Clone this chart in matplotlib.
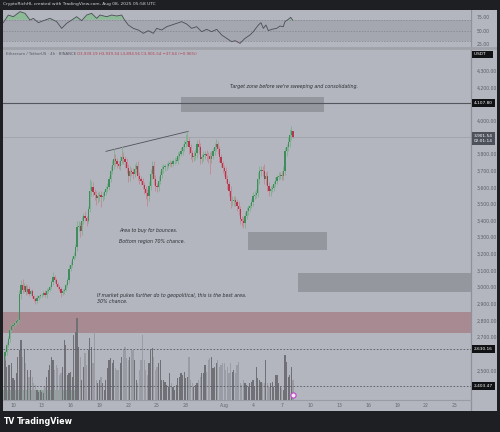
import numpy as np
import matplotlib
matplotlib.use("Agg")
import matplotlib.pyplot as plt
import matplotlib.transforms as mtransforms
from matplotlib.patches import Rectangle

first_open = 2585
closes = [
    2610, 2650, 2690, 2740, 2765,              # 9 juil. (04h..20h)
    2772, 2785, 2795, 2805, 2960, 3010,        # 10
    2985, 3005, 2970, 2990, 2960, 2975,        # 11
    2945, 2930, 2915, 2935, 2945, 2950,        # 12
    2955, 2965, 2950, 2975, 2985, 3000,        # 13
    3030, 3060, 3045, 3020, 3000, 2990,        # 14
    2965, 2975, 2985, 3010, 3040, 3110,        # 15
    3135, 3170, 3190, 3240, 3360, 3370,        # 16
    3340, 3400, 3425, 3415, 3400, 3470,        # 17
    3580, 3600, 3570, 3555, 3535, 3545,        # 18
    3555, 3540, 3545, 3570, 3590, 3600,        # 19
    3650, 3700, 3735, 3770, 3755, 3740,        # 20
    3730, 3760, 3780, 3770, 3750, 3715,        # 21
    3670, 3695, 3690, 3680, 3710, 3725,        # 22
    3670, 3650, 3635, 3615, 3590, 3565,        # 23
    3550, 3610, 3680, 3725, 3650, 3605,        # 24
    3600, 3640, 3675, 3710, 3720, 3725,        # 25
    3730, 3740, 3745, 3740, 3755, 3760,        # 26
    3760, 3790, 3800, 3815, 3840, 3860,        # 27
    3875, 3880, 3840, 3805, 3780, 3790,        # 28
    3805, 3860, 3840, 3770, 3780, 3795,        # 29
    3800, 3790, 3785, 3770, 3790, 3815,        # 30
    3840, 3860, 3830, 3780, 3745, 3715,        # 31
    3700, 3650, 3620, 3580, 3515, 3520,        # 1 août
    3525, 3510, 3490, 3470, 3410, 3395,        # 2
    3385, 3430, 3460, 3475, 3490, 3510,        # 3
    3550, 3555, 3565, 3650, 3700, 3705,        # 4
    3700, 3650, 3665, 3610, 3575, 3590,        # 5
    3595, 3620, 3640, 3660, 3670, 3675,        # 6
    3665, 3700, 3820, 3840, 3870, 3915,        # 7
    3939.19, 3901.54,                          # 8
]
upper_wicks = [
    15, 20, 15, 10, 20,
    10, 12, 15, 10, 25, 35,
    40, 20, 15, 20, 15, 10,
    15, 10, 10, 15, 10, 10,
    10, 10, 15, 20, 10, 15,
    15, 30, 15, 10, 10, 10,
    10, 15, 10, 15, 15, 20,
    20, 15, 20, 20, 40, 30,
    20, 25, 20, 30, 15, 20,
    70, 40, 30, 20, 20, 25,
    20, 20, 25, 15, 20, 25,
    20, 25, 30, 60, 30, 20,
    20, 30, 70, 30, 20, 25,
    25, 30, 20, 25, 30, 25,
    30, 20, 20, 20, 15, 20,
    25, 30, 30, 30, 30, 25,
    20, 25, 20, 25, 20, 15,
    15, 15, 20, 15, 15, 20,
    20, 20, 15, 25, 20, 25,
    45, 56, 25, 20, 20, 25,
    25, 25, 30, 25, 20, 20,
    20, 25, 20, 25, 30, 20,
    25, 30, 20, 20, 20, 15,
    20, 20, 25, 20, 25, 30,
    25, 20, 20, 25, 20, 20,
    25, 20, 20, 20, 15, 20,
    20, 20, 25, 40, 30, 25,
    25, 40, 25, 30, 20, 20,
    20, 15, 20, 15, 20, 15,
    20, 25, 20, 20, 30, 35,
    27, 0,
]
lower_wicks = [
    20, 15, 10, 20, 15,
    15, 10, 12, 15, 10, 30,
    20, 15, 20, 10, 15, 10,
    10, 15, 15, 10, 10, 10,
    10, 10, 10, 15, 10, 10,
    10, 15, 20, 15, 10, 15,
    25, 10, 15, 10, 10, 15,
    15, 15, 10, 15, 20, 25,
    40, 25, 20, 20, 30, 15,
    20, 30, 25, 30, 40, 30,
    30, 60, 20, 15, 15, 20,
    15, 20, 20, 25, 30, 25,
    20, 25, 20, 30, 35, 30,
    40, 30, 25, 30, 20, 25,
    25, 30, 20, 25, 30, 35,
    60, 30, 25, 30, 35, 30,
    30, 25, 20, 20, 25, 20,
    20, 15, 15, 20, 15, 15,
    15, 20, 20, 15, 20, 20,
    20, 30, 40, 35, 30, 25,
    25, 30, 40, 30, 25, 20,
    25, 30, 40, 90, 25, 20,
    20, 25, 30, 30, 25, 30,
    30, 25, 30, 35, 40, 30,
    30, 25, 30, 35, 30, 25,
    30, 30, 20, 25, 20, 15,
    25, 20, 20, 25, 30, 35,
    30, 30, 35, 30, 30, 25,
    20, 15, 20, 20, 15, 20,
    20, 20, 25, 30, 25, 30,
    30, 7,
]
volumes = [  # milliers d'ETH (estimation relative)
    45, 33, 35, 35, 37, 22, 20, 27, 43, 50, 60, 43, 50, 37, 30, 23, 30, 23,
    17, 15, 10, 8, 10, 8, 7, 13, 23, 30, 35, 43, 40, 30, 35, 32, 25, 27,
    33, 60, 55, 25, 27, 28, 23, 65, 68, 82, 53, 43, 20, 33, 47, 35, 50, 62,
    53, 37, 68, 20, 17, 20, 23, 17, 10, 20, 32, 40, 42, 37, 40, 32, 30, 30,
    37, 43, 50, 53, 42, 40, 43, 50, 50, 40, 20, 17, 30, 40, 65, 40, 30, 25,
    37, 50, 52, 43, 30, 33, 37, 40, 20, 20, 18, 15, 13, 27, 17, 13, 10, 15,
    22, 23, 27, 25, 28, 22, 23, 43, 20, 17, 13, 15, 17, 20, 23, 27, 27, 35,
    28, 40, 42, 43, 32, 33, 37, 40, 33, 35, 37, 37, 30, 33, 27, 37, 28, 30,
    27, 35, 38, 17, 15, 20, 17, 15, 13, 17, 18, 20, 13, 33, 22, 20, 18, 17,
    17, 40, 17, 13, 17, 18, 13, 25, 25, 17, 13, 12, 10, 45, 38, 23, 25, 33,
    20,
]

# RSI (jour, valeur)
rsi_days = [-1.01, -0.49, 0.03, 0.73, 1.25, 1.77, 2.12, 2.64, 3.16, 3.85, 4.55,
            5.07, 5.59, 6.11, 6.63, 7.15, 7.67, 8.19, 8.72, 9.06, 9.76, 10.28,
            10.80, 11.32, 11.67, 12.01, 12.53, 13.06, 13.58, 14.10, 14.62, 14.97,
            15.49, 16.01, 16.53, 17.05, 17.57, 18.09, 18.61, 19.13, 19.65, 20.17,
            20.69, 21.22, 21.74, 22.26, 22.78, 23.13, 23.65, 24.17, 24.69, 25.03,
            25.56, 25.83, 26.08, 26.35, 26.60, 26.94, 27.47, 27.81, 28.16, 28.33,
            28.68, 28.92, 29.13]
rsi_vals = [64.5, 78.7, 75.6, 84.9, 81.8, 69.4, 72.5, 64.5, 68.2, 72.5, 66.4,
            54.0, 63.3, 69.4, 75.6, 68.2, 78.7, 81.8, 72.5, 78.7, 75.6, 78.7,
            76.9, 78.7, 68.2, 60.2, 54.0, 50.9, 44.8, 49.7, 44.8, 54.0,
            50.9, 57.1, 60.2, 63.3, 66.4, 62.0, 54.0, 57.1, 47.8, 52.2,
            47.8, 52.2, 41.7, 35.5, 29.3, 31.2, 26.2, 35.5, 41.7, 47.8,
            60.2, 64.5, 54.0, 60.2, 49.7, 52.2, 54.0, 58.3, 57.1, 66.4,
            70.7, 74.4, 69.4]

tick_days = [0, 3, 6, 9, 12, 15, 18, 22, 25, 28, 31, 34, 37, 40, 43, 46]
tick_labels = ["10", "13", "16", "19", "22", "25", "28", "Aug", "4", "7",
               "10", "13", "16", "19", "22", "25"]
# graduations visibles (les autres sont masquées par les étiquettes de niveaux)
price_ticks = [2500, 2700, 2800, 2900, 3000, 3100, 3200, 3300, 3400, 3500,
               3600, 3700, 3800, 4000, 4200, 4300]

target_zone = (17.5, 32.4, 4052, 4142)
buy_zone = (24.5, 32.7, 3222, 3332)
low_zone = (29.7, 48.0, 2970, 3084)
pink_zone = (2726, 2852)
resistance = 4107.80
last_price = 3901.54
level_a = 2630.16
level_b = 2403.47
trend_line = ([9.69, 18.26], [3816, 3936])

# --- Style ---
PANE = "#b4b6bf"
DARK = "#1e1f22"
UP, DOWN = "#3f8d5c", "#b23850"
UP_W, DOWN_W = "#7fae8f", "#c48592"
W, H = 500, 432


def rect(x0, y0, x1, y1):
    return [x0 / W, 1 - y1 / H, (x1 - x0) / W, (y1 - y0) / H]


fig = plt.figure(figsize=(5, 4.32), dpi=100, facecolor=DARK)

bg = fig.add_axes(rect(3, 10, 497, 411))
bg.set_facecolor(PANE)
bg.set_xlim(3, 497)
bg.set_ylim(411, 10)
bg.axis("off")
bg.add_patch(Rectangle((3, 10), 494, 401, facecolor=PANE, edgecolor="none"))
bg.plot([471, 471], [10, 411], color="#8f9199", lw=0.9)
bg.plot([3, 497], [47.5, 47.5], color="#a0a2aa", lw=2.0)
bg.plot([3, 471], [400, 400], color="#9a9ca4", lw=0.8)

xlim = (-1.042, 47.71)

# --- RSI ---
ax_r = fig.add_axes(rect(3, 10, 471, 46.5))
ax_r.set_facecolor(PANE)
ax_r.set_xlim(*xlim)
ax_r.set_ylim(20.4, 88)
ax_r.axhspan(30, 70, color="#a5a7b0", lw=0)
for lvl in (70, 50, 30):
    ax_r.axhline(lvl, color="#80828b", lw=0.5, dashes=(2, 2))
rd = np.array(rsi_days)
rv = np.array(rsi_vals)
ax_r.fill_between(rd, rv, 70, where=rv > 70, interpolate=True, color="#8dbb98", lw=0)
ax_r.fill_between(rd, rv, 30, where=rv < 30, interpolate=True, color="#c99aa2", lw=0)
ax_r.plot(rd, rv, color="#4b4d56", lw=0.6)
ax_r.set_xticks([])
ax_r.yaxis.tick_right()
ax_r.set_yticks([25, 50, 75], ["25.00", "50.00", "75.00"])
ax_r.tick_params(axis="y", length=0, pad=4, labelsize=3.3, labelcolor="#5b5d66")
for s in ax_r.spines.values():
    s.set_visible(False)

# --- Prix + volume ---
ax_v = fig.add_axes(rect(3, 48.5, 471, 400))
ax = fig.add_axes(rect(3, 48.5, 471, 400), sharex=ax_v)
ax.patch.set_visible(False)
ax_v.set_facecolor(PANE)
ax.set_xlim(*xlim)
ax.set_ylim(2321.8, 4433.8)

n = len(closes)
cx = -5 / 6 + np.arange(n) / 6
c = np.array(closes, dtype=float)
o = np.concatenate([[first_open], c[:-1]])
up = c >= o
hi = np.maximum(o, c) + np.array(upper_wicks)
lo = np.minimum(o, c) - np.array(lower_wicks)

# zone rose et volume sur l'axe du dessous
ax_v.add_patch(Rectangle((xlim[0], pink_zone[0]), xlim[1] - xlim[0],
                         pink_zone[1] - pink_zone[0], transform=ax.transData,
                         facecolor="#a88a92", edgecolor="none"))
ax_v.add_patch(Rectangle((xlim[0], 2322), 7.8, 60, transform=ax.transData,
                         facecolor="#8ea596", edgecolor="none", alpha=0.9))
ax_v.bar(cx, volumes, width=0.12, color=np.where(up, "#6f7177", "#9a9ca3"), lw=0)
ax_v.set_ylim(0, max(volumes) * 352 / 82)
ax_v.axis("off")

for x0, x1, y0, y1 in (target_zone, buy_zone, low_zone):
    ax.add_patch(Rectangle((x0, y0), x1 - x0, y1 - y0, facecolor="#95979f",
                           edgecolor="none", zorder=1))
ax.axhline(resistance, color="#55575e", lw=0.8, zorder=1.5)
ax.axhline(last_price, color="#9c9ea6", lw=0.5, zorder=1.2)
for lvl in (level_a, level_b):
    ax.axhline(lvl, color="#55575e", lw=0.6, dashes=(2, 2), zorder=1.5)
ax.plot(*trend_line, color="#505258", lw=0.6, zorder=2)

ax.vlines(cx, lo, hi, colors=np.where(up, UP_W, DOWN_W), lw=0.6, zorder=2)
ax.bar(cx, np.maximum(np.abs(c - o), 5), bottom=np.minimum(o, c), width=0.14,
       color=np.where(up, UP, DOWN), lw=0, zorder=3)

ax.scatter([29.17], [2349], s=14, facecolor="#f4e8f4", edgecolor="#c040c8",
           lw=0.8, zorder=4, clip_on=False)

note = dict(fontsize=3.4, style="italic", color="#2b2c33", zorder=5)
ax.text(22.6, 4208, "Target zone before we're sweeping and consolidating.",
        va="center", **note)
ax.text(11.07, 3342, "Area to buy for bounces.", va="center", **note)
ax.text(11.07, 3276, "Bottom region 70% chance.", va="center", **note)
ax.text(8.72, 2952, "If market pukes further do to geopolitical, this is the best area.",
        va="center", **note)
ax.text(8.72, 2916, "30% chance.", va="center", **note)

ax.text(0.006, 0.985, "Ethereum / TetherUS · 4h · BINANCE", transform=ax.transAxes,
        fontsize=2.8, color="#55575f", va="center")
ax.text(0.158, 0.985, "O3,939.19 H3,939.34 L3,894.56 C3,901.54 −37.64 (−0.96%)",
        transform=ax.transAxes, fontsize=2.8, color="#b0404f", va="center")

ax.set_xticks(tick_days, tick_labels)
ax.tick_params(axis="x", length=0, pad=2.5, labelsize=3.3, labelcolor="#65676f")
ax.yaxis.tick_right()
ax.set_yticks(price_ticks, [f"{p:,.2f}" for p in price_ticks])
ax.tick_params(axis="y", length=0, pad=4, labelsize=3.3, labelcolor="#5b5d66")
for s in ax.spines.values():
    s.set_visible(False)

tr = mtransforms.blended_transform_factory(ax.transAxes, ax.transData)


def tag(y, text, fc, transform=tr):
    ax.text(1.006, y, text, transform=transform, fontsize=3.1, color="white",
            va="center", ha="left", zorder=6, clip_on=False,
            bbox=dict(boxstyle="square,pad=0.45", fc=fc, ec="none"))


tag(0.983, "USDT    ", "#111214", transform=ax.transAxes)
tag(resistance, "4,107.80", "#111214")
tag(level_a, "2,630.16", "#111214")
tag(level_b, "2,403.47", "#111214")
ax.annotate("3,901.54\n02:01:14", xy=(1.006, last_price), xycoords=tr,
            xytext=(0, 2.2), textcoords="offset points", fontsize=3.1,
            color="white", va="top", ha="left", linespacing=1.2, zorder=6,
            annotation_clip=False,
            bbox=dict(boxstyle="square,pad=0.45", fc="#4d515c", ec="none"))

fig.text(3 / W, 1 - 4.5 / H,
         "CryptoRichHL created with TradingView.com, Aug 08, 2025 05:58 UTC",
         fontsize=3.2, color="#d4d4d6", va="center")
fig.text(4 / W, 1 - 421.5 / H, "TV", fontsize=5.5, fontweight="heavy",
         color="white", va="center")
fig.text(17 / W, 1 - 421.5 / H, "TradingView", fontsize=5.8, fontweight="bold",
         color="white", va="center")

fig.savefig("out.png", dpi=100, facecolor=DARK)
